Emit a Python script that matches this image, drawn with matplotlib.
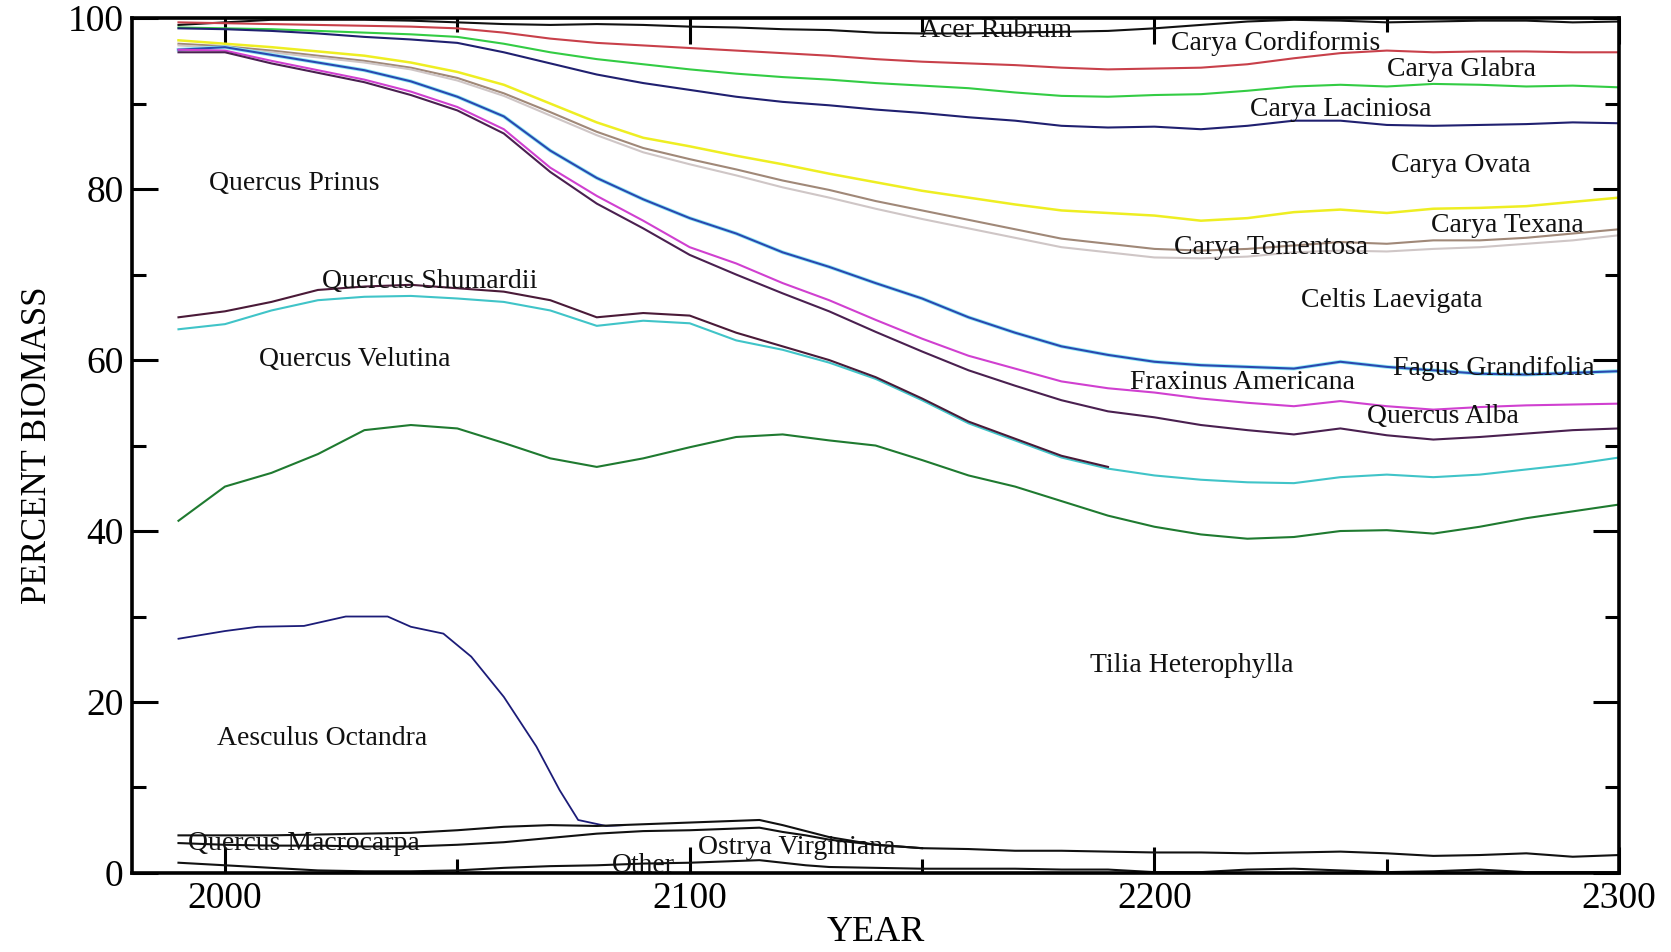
import matplotlib
matplotlib.use("Agg")
import matplotlib.pyplot as plt
from matplotlib.ticker import MultipleLocator

plt.rcParams['font.family'] = ['Liberation Serif', 'DejaVu Serif']

# ---------------- data (cumulative boundaries, percent biomass) ----------------
years = [1990, 2000, 2010, 2020, 2030, 2040, 2050, 2060, 2070, 2080, 2090, 2100,
         2110, 2120, 2130, 2140, 2150, 2160, 2170, 2180, 2190, 2200, 2210, 2220,
         2230, 2240, 2250, 2260, 2270, 2280, 2290, 2300]

acer_rubrum = [99.2, 99.5, 99.8, 99.8, 99.8, 99.7, 99.5, 99.3, 99.2, 99.3, 99.2, 99.0,
               98.9, 98.7, 98.6, 98.3, 98.2, 98.2, 98.3, 98.4, 98.5, 98.8, 99.2, 99.6,
               99.8, 99.7, 99.5, 99.6, 99.7, 99.7, 99.5, 99.6]
carya_cordiformis = [99.5, 99.4, 99.3, 99.2, 99.1, 99.0, 98.8, 98.3, 97.6, 97.1, 96.8, 96.5,
                     96.2, 95.9, 95.6, 95.2, 94.9, 94.7, 94.5, 94.2, 94.0, 94.1, 94.2, 94.6,
                     95.3, 95.9, 96.2, 96.0, 96.1, 96.1, 96.0, 96.0]
carya_glabra = [98.9, 98.8, 98.7, 98.5, 98.3, 98.1, 97.8, 97.0, 96.0, 95.2, 94.6, 94.0,
                93.5, 93.1, 92.8, 92.4, 92.1, 91.8, 91.3, 90.9, 90.8, 91.0, 91.1, 91.5,
                92.0, 92.2, 92.0, 92.3, 92.2, 92.0, 92.1, 91.9]
carya_laciniosa = [98.8, 98.7, 98.5, 98.2, 97.8, 97.5, 97.1, 96.0, 94.7, 93.4, 92.4, 91.6,
                   90.8, 90.2, 89.8, 89.3, 88.9, 88.4, 88.0, 87.4, 87.2, 87.3, 87.0, 87.4,
                   88.0, 88.0, 87.5, 87.4, 87.5, 87.6, 87.8, 87.7]
carya_ovata = [97.4, 97.0, 96.6, 96.1, 95.6, 94.8, 93.7, 92.2, 90.0, 87.8, 86.0, 85.0,
               83.9, 82.9, 81.8, 80.8, 79.8, 79.0, 78.2, 77.5, 77.2, 76.9, 76.3, 76.6,
               77.3, 77.6, 77.2, 77.7, 77.8, 78.0, 78.5, 79.0]
carya_texana = [97.0, 96.7, 96.2, 95.6, 95.0, 94.2, 93.0, 91.2, 89.0, 86.7, 84.8, 83.5,
                82.3, 81.0, 79.9, 78.6, 77.5, 76.4, 75.3, 74.2, 73.6, 73.0, 72.8, 73.0,
                73.4, 73.8, 73.6, 74.0, 74.0, 74.3, 74.8, 75.3]
carya_tomentosa = [96.8, 96.5, 96.0, 95.4, 94.8, 94.0, 92.7, 90.9, 88.6, 86.3, 84.3, 82.9,
                   81.6, 80.2, 79.0, 77.7, 76.5, 75.4, 74.3, 73.2, 72.6, 72.0, 71.9, 72.1,
                   72.6, 72.8, 72.7, 73.0, 73.2, 73.6, 74.0, 74.6]
fagus_grandifolia = [96.3, 96.6, 95.7, 94.8, 93.9, 92.6, 90.8, 88.5, 84.5, 81.3, 78.8, 76.6,
                     74.8, 72.6, 70.9, 69.0, 67.2, 65.0, 63.2, 61.6, 60.6, 59.8, 59.4, 59.2,
                     59.0, 59.8, 59.2, 58.8, 58.4, 58.3, 58.5, 58.7]
fraxinus_americana = [96.3, 96.2, 95.0, 93.9, 92.8, 91.4, 89.6, 87.0, 82.5, 79.2, 76.3, 73.2,
                      71.3, 69.0, 67.0, 64.7, 62.5, 60.5, 59.0, 57.5, 56.7, 56.2, 55.5, 55.0,
                      54.6, 55.2, 54.6, 54.2, 54.5, 54.7, 54.8, 54.9]
quercus_alba = [96.0, 96.0, 94.7, 93.6, 92.5, 91.0, 89.2, 86.5, 82.0, 78.3, 75.4, 72.3,
                70.0, 67.8, 65.7, 63.3, 61.0, 58.8, 57.0, 55.3, 54.0, 53.3, 52.4, 51.8,
                51.3, 52.0, 51.2, 50.7, 51.0, 51.4, 51.8, 52.0]
quercus_prinus = [65.0, 65.7, 66.8, 68.2, 68.6, 68.8, 68.4, 68.0, 67.0, 65.0, 65.5, 65.2,
                  63.2, 61.6, 60.0, 58.0, 55.5, 52.8, 50.8, 48.8, 47.5]
quercus_shumardii = [63.6, 64.2, 65.8, 67.0, 67.4, 67.5, 67.2, 66.8, 65.8, 64.0, 64.6, 64.3,
                     62.3, 61.2, 59.7, 57.8, 55.3, 52.6, 50.6, 48.6, 47.3, 46.5, 46.0, 45.7,
                     45.6, 46.3, 46.6, 46.3, 46.6, 47.2, 47.8, 48.6]
quercus_velutina = [41.2, 45.2, 46.8, 49.0, 51.8, 52.4, 52.0, 50.3, 48.5, 47.5, 48.5, 49.8,
                    51.0, 51.3, 50.6, 50.0, 48.3, 46.5, 45.2, 43.5, 41.8, 40.5, 39.6, 39.1,
                    39.3, 40.0, 40.1, 39.7, 40.5, 41.5, 42.3, 43.1]

aesculus_years = [1990, 2000, 2007, 2017, 2026, 2035, 2040, 2047, 2053, 2060, 2067,
                  2072, 2076, 2082, 2086]
tilia_heterophylla = [27.4, 28.3, 28.8, 28.9, 30.0, 30.0, 28.8, 28.0, 25.3, 20.6, 14.8,
                      9.7, 6.2, 5.5, 5.6]

bottom_years = [1990, 2000, 2010, 2020, 2030, 2040, 2050, 2060, 2070, 2080, 2090, 2100,
                2110, 2115, 2120, 2125, 2130, 2140, 2150, 2160, 2170, 2180, 2190, 2200,
                2210, 2220, 2230, 2240, 2250, 2260, 2270, 2280, 2290, 2300]
aesculus_octandra = [4.4, 4.4, 4.4, 4.5, 4.6, 4.7, 5.0, 5.4, 5.6, 5.5, 5.7, 5.9,
                     6.1, 6.2, 5.6, 4.9, 4.2, 3.3, 2.9, 2.8, 2.6, 2.6, 2.5, 2.4,
                     2.4, 2.3, 2.4, 2.5, 2.3, 2.0, 2.1, 2.3, 1.9, 2.1]
quercus_macrocarpa = [3.5, 3.3, 3.2, 3.2, 3.1, 3.1, 3.3, 3.6, 4.1, 4.6, 4.9, 5.0,
                      5.2, 5.3, 4.8, 4.4, 3.9, 3.3, 2.9]
ostrya_virginiana = [1.2, 0.9, 0.6, 0.3, 0.2, 0.2, 0.3, 0.6, 0.8, 0.9, 1.1, 1.2,
                     1.4, 1.5, 1.2, 0.9, 0.7, 0.6, 0.5, 0.5, 0.5, 0.4, 0.4, 0.1,
                     0.1, 0.4, 0.5, 0.3, 0.1, 0.2, 0.4, 0.1, 0.1, 0.1]

species_labels = ["Acer Rubrum", "Carya Cordiformis", "Carya Glabra", "Carya Laciniosa",
                  "Carya Ovata", "Carya Texana", "Carya Tomentosa", "Celtis Laevigata",
                  "Fagus Grandifolia", "Fraxinus Americana", "Quercus Alba",
                  "Quercus Prinus", "Quercus Shumardii", "Quercus Velutina",
                  "Tilia Heterophylla", "Aesculus Octandra", "Quercus Macrocarpa",
                  "Ostrya Virginiana", "Other"]
label_x = [2166, 2226, 2266, 2240, 2266, 2276, 2225, 2251, 2273, 2219, 2262,
           2015, 2044, 2028, 2208, 2021, 2017, 2123, 2090]
label_y = [98.6, 97.0, 94.0, 89.3, 82.7, 75.7, 73.2, 67.0, 59.0, 57.4, 53.4,
           80.7, 69.2, 60.1, 24.3, 15.7, 3.5, 3.0, 0.9]

xticks = [2000, 2100, 2200, 2300]
yticks = [0, 20, 40, 60, 80, 100]

# ---------------- figure ----------------
fig = plt.figure(figsize=(16.71, 9.52), dpi=100)
ax = fig.add_axes([0.079, 0.083, 0.890, 0.898])

lw = 1.5
ax.plot(years, acer_rubrum, color='#111111', lw=lw)
ax.plot(years, carya_cordiformis, color='#c8404a', lw=lw)
ax.plot(years, carya_glabra, color='#33cc44', lw=lw)
ax.plot(years, carya_laciniosa, color='#202070', lw=lw)
ax.plot(years, carya_ovata, color='#eeee22', lw=lw + 0.3)
ax.plot(years, carya_texana, color='#a08878', lw=lw)
ax.plot(years, carya_tomentosa, color='#cfc6c6', lw=lw)
ax.plot(years, fagus_grandifolia, color='#8eeaf5', lw=lw + 1.2)
ax.plot(years, fagus_grandifolia, color='#2a48b0', lw=lw)
ax.plot(years, fraxinus_americana, color='#d040d0', lw=lw)
ax.plot(years, quercus_alba, color='#4a2050', lw=lw)
ax.plot(years, quercus_shumardii, color='#40c4c8', lw=lw)
ax.plot(years[:len(quercus_prinus)], quercus_prinus, color='#4a1a38', lw=lw)
ax.plot(years, quercus_velutina, color='#1f7a30', lw=lw)
ax.plot(aesculus_years, tilia_heterophylla, color='#1c1c78', lw=lw - 0.2)
ax.plot(bottom_years, aesculus_octandra, color='#111111', lw=lw)
ax.plot(bottom_years[:len(quercus_macrocarpa)], quercus_macrocarpa, color='#111111', lw=lw)
ax.plot(bottom_years, ostrya_virginiana, color='#111111', lw=lw)

for name, lx, ly in zip(species_labels, label_x, label_y):
    ax.text(lx, ly, name, fontsize=20, ha='center', va='center', color='#111111')

ax.set_xlim(1980, 2300)
ax.set_ylim(0, 100)
ax.set_xticks(xticks)
ax.set_yticks(yticks)
ax.xaxis.set_minor_locator(MultipleLocator(50))
ax.yaxis.set_minor_locator(MultipleLocator(10))
ax.tick_params(which='both', direction='in', top=True, right=True, width=2.2,
               labelsize=27, color='black')
ax.tick_params(which='major', length=19)
ax.tick_params(which='minor', length=10)
ax.tick_params(axis='x', which='major', pad=6)
ax.tick_params(axis='y', which='major', pad=6)
for sp in ax.spines.values():
    sp.set_linewidth(2.6)

ax.set_xlabel("YEAR", fontsize=26, labelpad=0)
ax.set_ylabel("PERCENT BIOMASS", fontsize=25, labelpad=10)

fig.savefig("out.png", dpi=100, facecolor='white')
